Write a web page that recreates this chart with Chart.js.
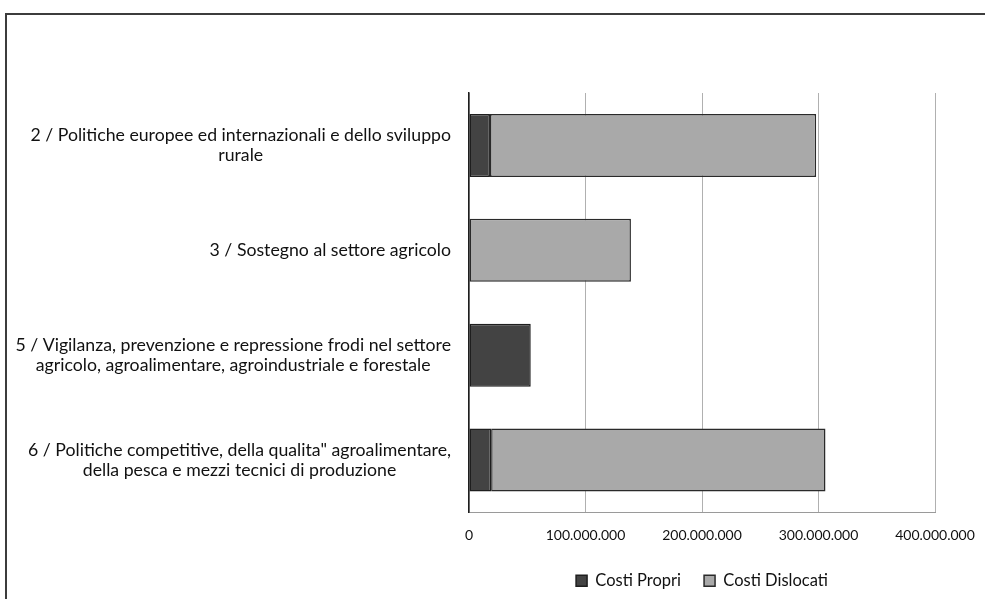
<!DOCTYPE html>
<html>
<head>
<meta charset="utf-8">
<script src="https://cdn.jsdelivr.net/npm/chart.js@4"></script>
<style>
  html, body { margin:0; padding:0; width:985px; height:599px; overflow:hidden; background:#fff; }
  #frame { position:absolute; left:5px; top:13px; width:1200px; height:800px; border:2px solid #3c3c3c; box-sizing:border-box; }
  #wrap { position:absolute; left:0; top:0; width:985px; height:599px; }
</style>
</head>
<body>
<div id="frame"></div>
<div id="wrap"><canvas id="c" width="985" height="599"></canvas></div>
<script>
const categories = [
  ["2 / Politiche europee ed internazionali e dello sviluppo", "rurale"],
  ["3 / Sostegno al settore agricolo"],
  ["5 / Vigilanza, prevenzione e repressione frodi nel settore", "agricolo, agroalimentare, agroindustriale e forestale"],
  ["6 / Politiche competitive, della qualita\" agroalimentare,", "della pesca e mezzi tecnici di produzione"]
];
const seriesNames = ["Costi Propri", "Costi Dislocati"];
const costiPropri = [18000000, null, 53000000, 19000000];
const costiDislocati = [280000000, 139000000, null, 287000000];
const xMax = 400000000;
const xStep = 100000000;

function fmtIt(v) {
  return String(Math.round(v)).replace(/\B(?=(\d{3})+(?!\d))/g, ".");
}

const LABEL_FONT = '17.7px Lato, "Open Sans", sans-serif';
const yLabelPlugin = {
  id: 'yLabelPlugin',
  afterDraw(chart) {
    const ctx = chart.ctx;
    const ys = chart.scales.y;
    const rightEdge = chart.chartArea.left - 18;
    ctx.save();
    ctx.font = LABEL_FONT;
    ctx.fillStyle = '#111';
    ctx.textAlign = 'center';
    ctx.textBaseline = 'middle';
    const lh = 20;
    categories.forEach((lines, i) => {
      const cy = ys.getPixelForTick(i);
      const w = Math.max(...lines.map(l => ctx.measureText(l).width));
      const cx = rightEdge - w / 2;
      const y0 = cy - (lines.length - 1) * lh / 2;
      lines.forEach((l, k) => ctx.fillText(l, cx, y0 + k * lh));
    });
    ctx.restore();
  }
};

new Chart(document.getElementById('c'), {
  type: 'bar',
  data: {
    labels: categories.map(c => c.join(' ')),
    datasets: [
      {
        label: seriesNames[0],
        data: costiPropri,
        backgroundColor: '#434343',
        borderColor: '#1e1e1e',
        borderWidth: 1.5,
        borderSkipped: false
      },
      {
        label: seriesNames[1],
        data: costiDislocati,
        backgroundColor: '#a9a9a9',
        borderColor: '#2a2a2a',
        borderWidth: 1.5,
        borderSkipped: false
      }
    ]
  },
  options: {
    indexAxis: 'y',
    responsive: false,
    animation: false,
    devicePixelRatio: 1,
    barPercentage: 0.6,
    categoryPercentage: 1.0,
    layout: { padding: { top: 93, right: 50, left: 0, bottom: 0 } },
    scales: {
      x: {
        stacked: true,
        min: 0,
        max: xMax,
        ticks: {
          stepSize: xStep,
          color: '#111',
          padding: 15,
          font: { family: 'Lato, "Open Sans", sans-serif', size: 14 },
          callback: v => fmtIt(v)
        },
        grid: { color: '#b0b0b0', lineWidth: 1, drawTicks: false },
        border: { display: true, color: '#9a9a9a', width: 1 },
        afterFit(s) { s.height = 37; s.paddingLeft = 0; s.paddingRight = 0; }
      },
      y: {
        stacked: true,
        ticks: { display: false },
        grid: { display: false, drawTicks: false },
        border: { display: true, color: '#1e1e1e', width: 1.5 },
        afterFit(s) { s.width = 469; }
      }
    },
    plugins: {
      tooltip: { enabled: false },
      legend: {
        position: 'bottom',
        fullSize: false,
        labels: {
          boxWidth: 11,
          boxHeight: 11,
          padding: 23,
          color: '#111',
          font: { family: 'Lato, "Open Sans", sans-serif', size: 16.5 }
        }
      }
    }
  },
  plugins: [yLabelPlugin]
});
</script>
</body>
</html>
